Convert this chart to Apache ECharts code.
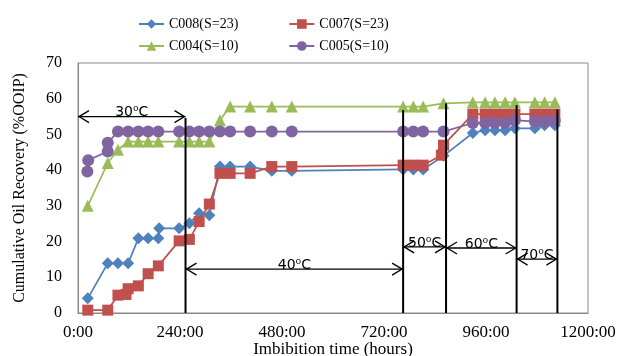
<!DOCTYPE html>
<html><head><meta charset="utf-8">
<script src="https://cdn.jsdelivr.net/npm/echarts@6/dist/echarts.min.js"></script>
<style>html,body{margin:0;padding:0;background:#fff}#c{width:618px;height:356px}</style>
</head><body><div id="c"></div>
<script>
// ---- data ----
const seriesNames = ['C008(S=23)', 'C007(S=23)', 'C004(S=10)', 'C005(S=10)'];
const hoursC008 = [23,70,94,118,142,165,189,191,238,262,285,309,334,358,405,456,503,765,789,812,860,929,958,981,1005,1028,1075,1098,1122];
const valuesC008 = [4.1,13.9,13.9,13.9,20.9,20.9,20.9,23.7,23.7,25.1,27.9,27.4,41.0,41.0,41.0,39.8,39.8,40.2,40.2,40.2,44.0,50.4,51.2,51.2,51.2,51.7,51.7,52.6,52.6];
const hoursC007 = [23,70,94,113,118,142,165,189,238,262,285,309,334,358,405,456,503,765,789,812,855,860,929,958,981,1005,1028,1075,1098,1122];
const valuesC007 = [0.8,0.8,5.0,5.2,6.8,7.6,11.0,13.2,20.2,20.6,25.6,30.5,39.1,39.1,39.1,41.0,41.0,41.4,41.4,41.4,44.2,47.0,55.7,55.7,55.7,55.7,55.7,55.7,55.7,55.7];
const hoursC004 = [23,70,94,118,142,165,189,238,262,285,309,334,358,405,456,503,765,789,812,860,929,958,981,1005,1028,1075,1098,1122];
const valuesC004 = [30.0,42.0,45.7,48.0,48.0,48.0,48.0,48.0,48.0,48.0,48.0,54.0,57.8,57.8,57.8,57.8,57.8,57.8,57.8,58.7,59.0,59.0,59.0,59.0,59.0,59.0,59.0,59.0];
const hoursC005 = [22,24,70,70,94,118,142,165,189,238,262,285,309,334,358,405,456,503,765,789,812,860,929,958,981,1005,1028,1075,1098,1122];
const valuesC005 = [39.6,42.8,45.2,47.7,50.8,50.8,50.8,50.8,50.8,50.8,50.8,50.8,50.8,50.8,50.8,50.8,50.8,50.8,50.8,50.8,50.8,50.8,53.2,53.2,53.2,53.2,54.0,53.6,53.6,53.8];
// temperature stages (annotations, in data units)
const tempLabels = ['30\u2070C', '40\u2070C', '50\u2070C', '60\u2070C', '70\u2070C'];
const tempStartHours = [0, 253, 765, 866, 1032];
const tempEndHours = [253, 765, 866, 1032, 1128];
const arrowLevels = [55, 12.3, 18.5, 18.2, 15.1];
const changeHours = [253, 765, 866, 1032, 1128];
const changeTops = [54.6, 56.8, 58.7, 58.2, 57.0];
const xTitle = 'Imbibition time (hours)';
const yTitle = 'Cumulative Oil Recovery (%OOIP)';

// ---- chart ----
const chart = echarts.init(document.getElementById('c'), null, {renderer: 'canvas'});
const serif = '"Liberation Serif", "Times New Roman", serif';
const pairs = (h, v) => h.map((x, i) => [x, v[i]]);
const styles = [
  {color: '#4F81BD', symbol: 'diamond', size: 12},
  {color: '#C0504D', symbol: 'rect', size: 11},
  {color: '#9BBB59', symbol: 'triangle', size: 12},
  {color: '#8064A2', symbol: 'circle', size: 12}
];
const dataSets = [
  pairs(hoursC008, valuesC008),
  pairs(hoursC007, valuesC007),
  pairs(hoursC004, valuesC004),
  pairs(hoursC005, valuesC005)
];
const legendText = {fontFamily: serif, fontSize: 14, color: '#000'};
const legendBase = {left: 138, padding: 0, itemGap: 50, itemWidth: 25, itemHeight: 12, textStyle: legendText};
chart.setOption({
  animation: false,
  grid: {left: 78, right: 30, top: 63, bottom: 43, show: true, borderColor: '#898989', borderWidth: 1,
         containLabel: false, outerBoundsMode: 'none'},
  legend: [
    Object.assign({data: [seriesNames[0], seriesNames[1]], top: 17}, legendBase),
    Object.assign({data: [seriesNames[2], seriesNames[3]], top: 39}, legendBase)
  ],
  xAxis: {
    type: 'value', min: 0, max: 1200, interval: 240,
    axisLine: {show: true, lineStyle: {color: '#898989'}},
    axisTick: {show: false}, splitLine: {show: false},
    axisLabel: {formatter: v => v + ':00', fontFamily: serif, fontSize: 17, color: '#000', margin: 11},
    name: xTitle, nameLocation: 'middle', nameGap: 28, nameMoveOverlap: false,
    nameTextStyle: {fontFamily: serif, fontSize: 17, color: '#000'}
  },
  yAxis: {
    type: 'value', min: 0, max: 70, interval: 10,
    axisLine: {show: true, lineStyle: {color: '#898989'}},
    axisTick: {show: false}, splitLine: {show: false},
    axisLabel: {fontFamily: serif, fontSize: 16, color: '#000', margin: 16},
    name: yTitle, nameLocation: 'middle', nameGap: 50,
    nameTextStyle: {fontFamily: serif, fontSize: 16, color: '#000'}
  },
  series: seriesNames.map((n, i) => ({
    name: n, type: 'line', data: dataSets[i],
    symbol: styles[i].symbol, symbolSize: styles[i].size,
    lineStyle: {color: styles[i].color, width: 1.75},
    itemStyle: {color: styles[i].color},
    z: 2 + i
  }))
});

const px = (h, v) => chart.convertToPixel({gridIndex: 0}, [h, v]);
const g = [];
changeHours.forEach((h, i) => {
  const t = px(h, changeTops[i]), b = px(h, 0);
  g.push({type: 'line', z: 100, shape: {x1: t[0], y1: t[1], x2: b[0], y2: b[1]}, style: {stroke: '#000', lineWidth: 2}});
});
tempLabels.forEach((lab, i) => {
  const a = px(tempStartHours[i], arrowLevels[i]);
  const b = px(tempEndHours[i], arrowLevels[i]);
  g.push({type: 'line', z: 100, shape: {x1: a[0], y1: a[1], x2: b[0], y2: b[1]}, style: {stroke: '#000', lineWidth: 1.3}});
  g.push({type: 'polyline', z: 100, shape: {points: [[a[0] + 11, a[1] - 6], [a[0] + 1, a[1]], [a[0] + 11, a[1] + 6]]}, style: {stroke: '#000', lineWidth: 1.3, fill: null}});
  g.push({type: 'polyline', z: 100, shape: {points: [[b[0] - 11, b[1] - 6], [b[0] - 1, b[1]], [b[0] - 11, b[1] + 6]]}, style: {stroke: '#000', lineWidth: 1.3, fill: null}});
  g.push({type: 'text', z: 101, x: (a[0] + b[0]) / 2, y: a[1] + 3,
    style: {text: lab, fontFamily: '"DejaVu Sans", sans-serif', fontSize: 14, fill: '#000', align: 'center', verticalAlign: 'bottom'}});
});
chart.setOption({graphic: g});
</script>
</body></html>
